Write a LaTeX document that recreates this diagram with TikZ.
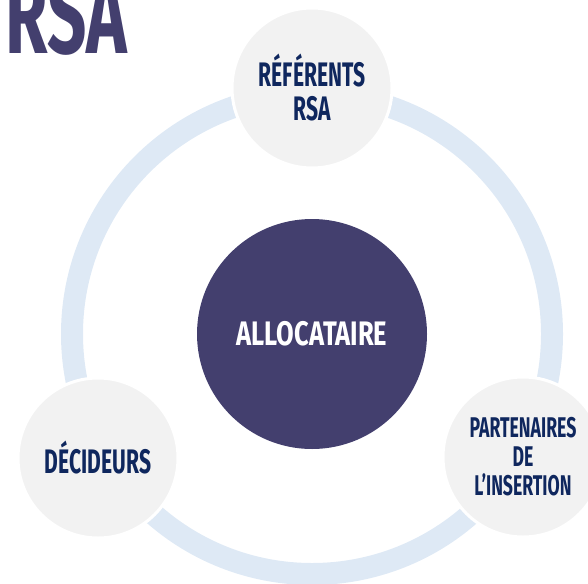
\documentclass[tikz,border=0pt]{standalone}
\usepackage{fontspec}
\newfontfamily\bebas[FakeStretch=0.62]{Fira Sans}
\newfontfamily\bebaswide[FakeStretch=0.75]{Fira Sans}
\definecolor{ringblue}{HTML}{DEE9F5}
\definecolor{softgrey}{HTML}{F2F2F2}
\definecolor{plum}{HTML}{433F6E}
\definecolor{navy}{HTML}{0F275E}
\begin{document}
\begin{tikzpicture}[x=1pt,y=-1pt,
    ring/.style={draw=ringblue,line width=22pt},
    actor/.style={circle,minimum size=160pt,inner sep=0pt,fill=softgrey,draw=white,line width=3pt,
                  text=navy,align=center,font={\bebas\bfseries\fontsize{34}{34}\selectfont}},
    hub/.style={circle,minimum size=230pt,inner sep=0pt,fill=plum,text=white,
                font={\bebaswide\bfseries\fontsize{34}{34}\selectfont}}
  ]
  \useasboundingbox (0,0) rectangle (588,583);

  \draw[ring] (312,334) circle (240);

  \node[hub] (allocataire) at (312,334) {ALLOCATAIRE};

  \node[actor] (referents) at (312,88)  {RÉFÉRENTS\\RSA};
  \node[actor] (decideurs) at (98,458)  {DÉCIDEURS};
  \node[actor,font={\bebas\bfseries\fontsize{28.5}{29}\selectfont}] (partenaires) at (523,457)
    {PARTENAIRES\\DE\\L’INSERTION};

  \node[anchor=base west,inner sep=0pt,text=plum,font={\bebas\bfseries\fontsize{111}{111}\selectfont}]
    (titre) at (5,54) {RSA};
\end{tikzpicture}
\end{document}
